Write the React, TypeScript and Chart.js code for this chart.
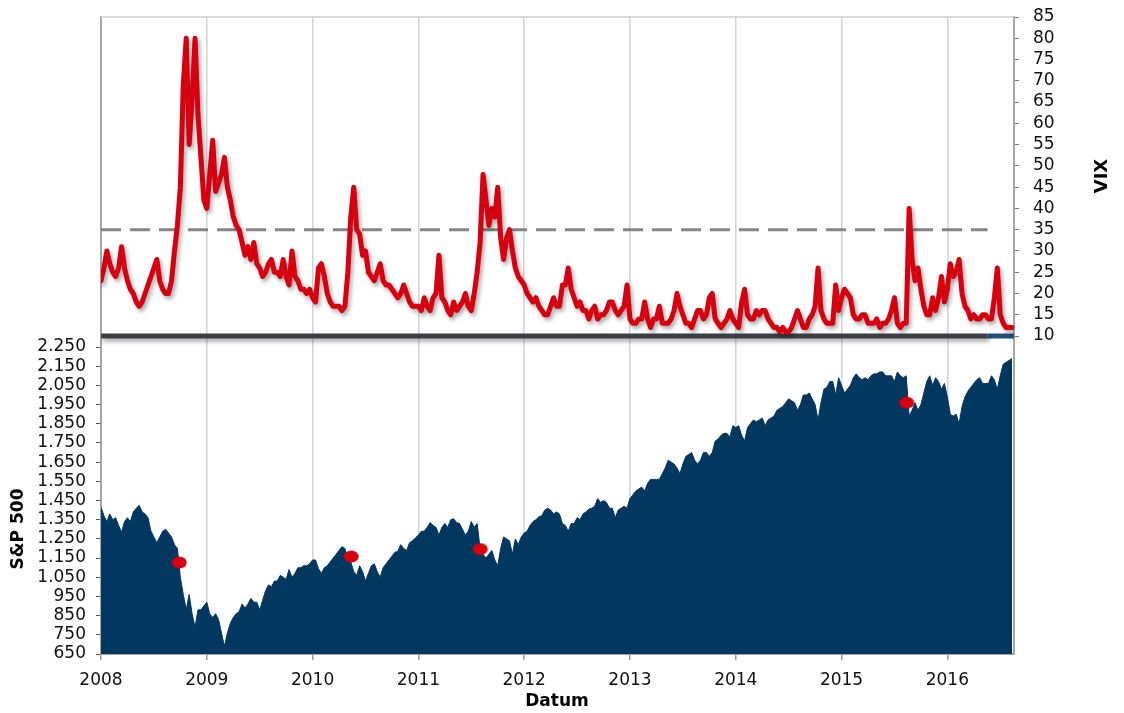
import React, { useEffect, useRef } from "react";
import { Chart, registerables } from "chart.js";

Chart.register(...registerables);

// Three readings per month (early, mid, late), Jan 2008 – mid Aug 2016
const seriesStart = 2008;
const readingsPerYear = 36;

const vixValues = [
  // 2008
  23, 26, 30, 27, 25, 24, 26, 31, 26, 23, 21, 20, 18, 17, 18, 20, 22, 24,
  26, 28, 23, 21, 20, 20, 23, 30, 36, 45, 69, 80, 55, 66, 80, 62, 52, 42,
  // 2009
  40, 48, 56, 44, 46, 48, 52, 45, 42, 38, 36, 35, 32, 29, 31, 28, 32, 27,
  26, 24, 25, 27, 28, 25, 25, 24, 28, 24, 22, 30, 24, 23, 21, 21, 20, 21,
  // 2010
  19, 18, 26, 27, 24, 20, 18, 17, 17, 17, 16, 17, 25, 38, 45, 35, 34, 29,
  30, 25, 24, 23, 25, 27, 23, 22, 22, 21, 20, 19, 20, 22, 20, 18, 17, 17,
  // 2011
  17, 16, 19, 17, 16, 19, 20, 29, 19, 18, 16, 15, 18, 16, 17, 18, 20, 17,
  16, 20, 25, 32, 48, 42, 36, 40, 38, 45, 33, 28, 33, 35, 30, 26, 24, 23,
  // 2012
  22, 20, 19, 18, 19, 17, 16, 15, 15, 17, 19, 17, 17, 22, 22, 26, 21, 19,
  17, 18, 16, 16, 14, 16, 17, 14, 15, 15, 16, 18, 18, 16, 15, 16, 17, 22,
  // 2013
  14, 13, 13, 14, 14, 18, 14, 12, 14, 14, 17, 13, 13, 13, 14, 16, 20, 17,
  15, 13, 13, 12, 14, 16, 16, 14, 15, 19, 20, 14, 13, 12, 13, 14, 16, 14,
  // 2014
  13, 12, 18, 21, 15, 14, 14, 16, 15, 16, 16, 14, 13, 12, 12, 11, 12, 11,
  11, 12, 14, 16, 14, 12, 12, 14, 15, 17, 26, 16, 14, 13, 13, 13, 22, 16,
  // 2015
  19, 21, 20, 19, 15, 14, 14, 15, 15, 13, 13, 13, 14, 12, 13, 13, 14, 16,
  19, 13, 12, 13, 13, 40, 28, 23, 26, 21, 17, 15, 15, 19, 16, 19, 24, 18,
  // 2016
  21, 27, 24, 25, 28, 20, 17, 16, 14, 15, 14, 14, 15, 15, 14, 14, 19, 26,
  15, 13, 12, 12, 12,
];

const spxValues = [
  // 2008
  1415, 1370, 1340, 1380, 1350, 1360, 1320, 1285, 1340, 1360, 1340, 1390,
  1410, 1425, 1390, 1380, 1360, 1290, 1260, 1230, 1260, 1290, 1300, 1280,
  1260, 1220, 1200, 1050, 960, 880, 960, 860, 790, 880, 880, 900,
  // 2009
  920, 860, 840, 860, 830, 760, 690, 760, 810, 840, 860, 870,
  910, 890, 910, 940, 920, 920, 880, 930, 980, 1010, 1000, 1030,
  1030, 1060, 1050, 1040, 1090, 1050, 1070, 1100, 1100, 1110, 1110, 1120,
  // 2010
  1140, 1140, 1095, 1070, 1100, 1110, 1130, 1150, 1170, 1190, 1210, 1200,
  1140, 1130, 1080, 1060, 1110, 1080, 1030, 1070, 1110, 1120, 1080, 1050,
  1100, 1120, 1140, 1160, 1180, 1185, 1220, 1200, 1190, 1230, 1240, 1255,
  // 2011
  1270, 1290, 1290, 1310, 1335, 1320, 1310, 1270, 1310, 1330, 1310, 1350,
  1355, 1335, 1330, 1300, 1270, 1290, 1340, 1310, 1330, 1200, 1170, 1150,
  1170, 1190, 1140, 1110, 1200, 1260, 1250, 1240, 1170, 1250, 1220, 1260,
  // 2012
  1280, 1290, 1320, 1340, 1350, 1365, 1370, 1400, 1410, 1400, 1380, 1390,
  1380, 1330, 1320, 1290, 1330, 1330, 1360, 1350, 1380, 1390, 1405, 1410,
  1420, 1460, 1440, 1450, 1440, 1410, 1410, 1360, 1400, 1410, 1420, 1410,
  // 2013
  1460, 1480, 1500, 1510, 1520, 1500, 1540, 1560, 1560, 1560, 1560, 1590,
  1620, 1660, 1650, 1640, 1620, 1590, 1640, 1680, 1690, 1700, 1660, 1640,
  1660, 1700, 1700, 1680, 1700, 1760, 1770, 1790, 1800, 1800, 1780, 1840,
  // 2014
  1830, 1840, 1790, 1760, 1830, 1850, 1870, 1860, 1870, 1880, 1840, 1870,
  1880, 1890, 1920, 1930, 1940, 1960, 1980, 1970, 1960, 1920, 1950, 2000,
  2000, 2010, 1980, 1950, 1870, 1960, 2030, 2040, 2070, 2070, 2000, 2090,
  // 2015
  2050, 2010, 2030, 2050, 2090, 2110, 2090, 2080, 2090, 2080, 2100, 2110,
  2110, 2120, 2120, 2100, 2100, 2100, 2070, 2120, 2100, 2090, 2100, 1890,
  1920, 1960, 1920, 1950, 2010, 2070, 2100, 2050, 2090, 2070, 2030, 2060,
  // 2016
  1990, 1900, 1890, 1900, 1850, 1940, 1990, 2020, 2040, 2060, 2080, 2090,
  2060, 2060, 2060, 2100, 2080, 2030, 2100, 2160, 2170, 2180, 2190,
];

const spikeDates = [2008.74, 2010.365, 2011.585, 2015.616];
const spikeValues = [1127, 1158, 1197, 1960];

const vixThreshold = 35;
const thresholdEnd = 2016.38;
const vixFloor = 10;
const xMin = 2008;
const xMax = 2016.63;

const yearTicks = [2008, 2009, 2010, 2011, 2012, 2013, 2014, 2015, 2016];
const vixTicks = [10, 15, 20, 25, 30, 35, 40, 45, 50, 55, 60, 65, 70, 75, 80, 85];
const spxTicks = [650, 750, 850, 950, 1050, 1150, 1250, 1350, 1450, 1550, 1650, 1750, 1850, 1950, 2050, 2150, 2250];

const FONT = "'DejaVu Sans', Verdana, sans-serif";
const RED = "#d7000f";
const NAVY = "#02375f";

function fmtThousands(v: number) {
  return String(v).replace(/\B(?=(\d{3})+(?!\d))/g, ".");
}

export default function App() {
  const ref = useRef<HTMLCanvasElement>(null);

  useEffect(() => {
    if (!ref.current) return;
    const dates = vixValues.map((_, i) => seriesStart + i / readingsPerYear);
    const spxDates = spxValues.map((_, i) => seriesStart + i / readingsPerYear);

    const dot = document.createElement("canvas");
    dot.width = 16;
    dot.height = 13;
    const dctx = dot.getContext("2d")!;
    dctx.fillStyle = RED;
    dctx.beginPath();
    dctx.ellipse(8, 6.5, 7.5, 6, 0, 0, Math.PI * 2);
    dctx.fill();

    const shadowPlugin = {
      id: "shadowPlugin",
      beforeDatasetDraw(chart: any, args: any) {
        const ds = chart.data.datasets[args.index];
        if (ds.shadow) {
          const c = chart.ctx;
          c.save();
          c.shadowColor = "rgba(0,0,0,0.35)";
          c.shadowBlur = 4;
          c.shadowOffsetX = 2;
          c.shadowOffsetY = 3;
        }
      },
      afterDatasetDraw(chart: any, args: any) {
        const ds = chart.data.datasets[args.index];
        if (ds.shadow) chart.ctx.restore();
      },
    };

    const framePlugin = {
      id: "framePlugin",
      beforeDatasetsDraw(chart: any) {
        const { ctx, chartArea } = chart;
        ctx.save();
        ctx.strokeStyle = "#cfcfcf";
        ctx.lineWidth = 1.5;
        ctx.beginPath();
        ctx.moveTo(chartArea.left, chartArea.top);
        ctx.lineTo(chartArea.right, chartArea.top);
        ctx.stroke();
        ctx.restore();
      },
      afterDraw(chart: any) {
        const ctx = chart.ctx;
        ctx.save();
        ctx.fillStyle = "#000";
        ctx.textAlign = "center";
        ctx.textBaseline = "middle";
        ctx.font = `bold 17px ${FONT}`;
        ctx.fillText("Datum", 557, 702);
        ctx.save();
        ctx.translate(19, 529);
        ctx.rotate(-Math.PI / 2);
        ctx.fillText("S&P 500", 0, 0);
        ctx.restore();
        ctx.save();
        ctx.font = `bold 18px ${FONT}`;
        ctx.translate(1102, 176);
        ctx.rotate(-Math.PI / 2);
        ctx.fillText("VIX", 0, 0);
        ctx.restore();
        ctx.restore();
      },
    };

    const chart = new Chart(ref.current, {
      type: "line",
      data: {
        datasets: [
          {
            label: "VIX",
            data: vixValues.map((v, i) => ({ x: dates[i], y: v })),
            yAxisID: "yVix",
            borderColor: RED,
            borderWidth: 5,
            borderJoinStyle: "round",
            borderCapStyle: "round",
            pointRadius: 0,
            tension: 0,
            fill: false,
            shadow: true,
          } as any,
          {
            label: "Schwelle",
            data: [
              { x: xMin, y: vixThreshold },
              { x: thresholdEnd, y: vixThreshold },
            ],
            yAxisID: "yVix",
            borderColor: "#858585",
            borderWidth: 3,
            borderDash: [20, 9],
            pointRadius: 0,
            fill: false,
          },
          {
            label: "Basis",
            data: [
              { x: xMin, y: vixFloor },
              { x: thresholdEnd, y: vixFloor },
            ],
            yAxisID: "yVix",
            borderColor: "#3b3f44",
            borderWidth: 5,
            pointRadius: 0,
            fill: false,
            shadow: true,
          } as any,
          {
            label: "Basis2",
            data: [
              { x: thresholdEnd, y: vixFloor },
              { x: xMax, y: vixFloor },
            ],
            yAxisID: "yVix",
            borderColor: "#1f4e79",
            borderWidth: 5,
            pointRadius: 0,
            fill: false,
          },
          {
            label: "Spitzen",
            data: spikeDates.map((d, i) => ({ x: d, y: spikeValues[i] })),
            yAxisID: "ySp",
            showLine: false,
            pointStyle: dot as any,
            pointRadius: 7,
            pointHoverRadius: 7,
          },
          {
            label: "S&P 500",
            data: spxValues.map((v, i) => ({ x: spxDates[i], y: v })),
            yAxisID: "ySp",
            borderColor: NAVY,
            backgroundColor: NAVY,
            borderWidth: 1,
            pointRadius: 0,
            tension: 0,
            fill: "start",
          },
        ],
      },
      options: {
        animation: false,
        responsive: true,
        maintainAspectRatio: false,
        layout: { padding: { top: 17, left: 0, right: 0, bottom: 0 } },
        plugins: {
          legend: { display: false },
          tooltip: { enabled: false },
        },
        events: [],
        scales: {
          x: {
            type: "linear",
            min: xMin,
            max: xMax,
            afterBuildTicks: (s: any) => {
              s.ticks = yearTicks.map((v) => ({ value: v }));
            },
            afterFit: (s: any) => {
              s.height = 59;
            },
            ticks: {
              callback: (v: any) => String(v),
              font: { family: FONT, size: 17 },
              color: "#111",
              padding: 10,
              maxRotation: 0,
              autoSkip: false,
            },
            grid: {
              color: "#d4d4d4",
              lineWidth: 1.5,
              tickColor: "#9a9a9a",
              tickLength: 6,
            },
            border: { color: "#a6a6a6", width: 2 },
          },
          ySp: {
            type: "linear",
            position: "left",
            min: 650,
            max: 3970,
            afterBuildTicks: (s: any) => {
              s.ticks = spxTicks.map((v) => ({ value: v }));
            },
            afterFit: (s: any) => {
              s.width = 101;
              s.paddingTop = 0;
              s.paddingBottom = 0;
            },
            ticks: {
              callback: (v: any) => fmtThousands(Number(v)),
              font: { family: FONT, size: 17, lineHeight: 0.8 },
              color: "#111",
              padding: 10,
              autoSkip: false,
            },
            grid: {
              drawOnChartArea: false,
              tickColor: "#555",
              tickLength: 5,
            },
            border: { color: "#a6a6a6", width: 2 },
          },
          yVix: {
            type: "linear",
            position: "right",
            min: -64.76,
            max: 85,
            afterBuildTicks: (s: any) => {
              s.ticks = vixTicks.map((v) => ({ value: v }));
            },
            afterFit: (s: any) => {
              s.width = 110;
              s.paddingTop = 0;
              s.paddingBottom = 0;
            },
            ticks: {
              callback: (v: any) => String(v),
              font: { family: FONT, size: 17, lineHeight: 0.8 },
              color: "#111",
              padding: 14,
              autoSkip: false,
            },
            grid: {
              drawOnChartArea: false,
              tickColor: "#777",
              tickLength: 5,
            },
            border: { color: "#a6a6a6", width: 2 },
          },
        },
      } as any,
      plugins: [shadowPlugin, framePlugin],
    });

    return () => chart.destroy();
  }, []);

  return (
    <div style={{ position: "absolute", left: 0, top: 0, width: 1124, height: 713 }}>
      <canvas ref={ref} />
    </div>
  );
}
